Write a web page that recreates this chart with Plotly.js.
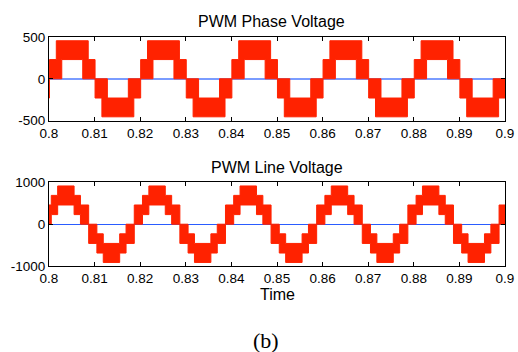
<!DOCTYPE html>
<html>
<head>
<meta charset="utf-8">
<script src="https://cdn.plot.ly/plotly-3.0.1.min.js"></script>
<style>html,body{margin:0;padding:0;background:#fff;}#chart{width:518px;height:352px;}</style>
</head>
<body>
<div id="chart"></div>
<script>
// ---- data ----
// PWM phase voltage: switching band, segment edges (s) and band limits (V)
const phaseEdges = [
  0.8000, 0.8001, 0.8016, 0.8028, 0.8074, 0.8086, 0.8101, 0.8116, 0.8128, 0.8174, 0.8186,
  0.8201, 0.8216, 0.8228, 0.8274, 0.8286, 0.8301, 0.8316, 0.8328, 0.8374, 0.8386,
  0.8401, 0.8416, 0.8428, 0.8474, 0.8486, 0.8501, 0.8516, 0.8528, 0.8574, 0.8586,
  0.8601, 0.8616, 0.8628, 0.8674, 0.8686, 0.8701, 0.8716, 0.8728, 0.8774, 0.8786,
  0.8801, 0.8816, 0.8828, 0.8874, 0.8886, 0.8901, 0.8916, 0.8928, 0.8974, 0.8986,
  0.9000
];
const phaseLow = [
  -230,
  0, 0, 230, 0, 0, -230, -455, -455, -455, -230,
  0, 0, 230, 0, 0, -230, -455, -455, -455, -230,
  0, 0, 230, 0, 0, -230, -455, -455, -455, -230,
  0, 0, 230, 0, 0, -230, -455, -455, -455, -230,
  0, 0, 230, 0, 0, -230, -455, -455, -455, -230
];
const phaseHigh = [
  0,
  230, 455, 455, 455, 230, 0, 0, -230, 0, 0,
  230, 455, 455, 455, 230, 0, 0, -230, 0, 0,
  230, 455, 455, 455, 230, 0, 0, -230, 0, 0,
  230, 455, 455, 455, 230, 0, 0, -230, 0, 0,
  230, 455, 455, 455, 230, 0, 0, -230, 0, 0
];

// PWM line voltage
const lineEdges = [
  0.8000, 0.8005, 0.8019, 0.8055, 0.8069, 0.8087, 0.8105, 0.8119, 0.8155, 0.8169, 0.8187,
  0.8205, 0.8219, 0.8255, 0.8269, 0.8287, 0.8305, 0.8319, 0.8355, 0.8369, 0.8387,
  0.8405, 0.8419, 0.8455, 0.8469, 0.8487, 0.8505, 0.8519, 0.8555, 0.8569, 0.8587,
  0.8605, 0.8619, 0.8655, 0.8669, 0.8687, 0.8705, 0.8719, 0.8755, 0.8769, 0.8787,
  0.8805, 0.8819, 0.8855, 0.8869, 0.8887, 0.8905, 0.8919, 0.8955, 0.8969, 0.8987,
  0.9000
];
const lineLow = [
  0,
  230, 460, 230, 0, -460, -690, -915, -690, -460, 0,
  230, 460, 230, 0, -460, -690, -915, -690, -460, 0,
  230, 460, 230, 0, -460, -690, -915, -690, -460, 0,
  230, 460, 230, 0, -460, -690, -915, -690, -460, 0,
  230, 460, 230, 0, -460, -690, -915, -690, -460, 0
];
const lineHigh = [
  460,
  690, 915, 690, 460, 0, -230, -460, -230, 0, 460,
  690, 915, 690, 460, 0, -230, -460, -230, 0, 460,
  690, 915, 690, 460, 0, -230, -460, -230, 0, 460,
  690, 915, 690, 460, 0, -230, -460, -230, 0, 460,
  690, 915, 690, 460, 0, -230, -460, -230, 0, 460
];

const xTickVals = [0.8, 0.81, 0.82, 0.83, 0.84, 0.85, 0.86, 0.87, 0.88, 0.89, 0.9];
const xTickText = ['0.8','0.81','0.82','0.83','0.84','0.85','0.86','0.87','0.88','0.89','0.9'];
const phaseTickVals = [-500, 0, 500];
const phaseTickText = ['-500', '0', '500'];
const lineTickVals = [-1000, 0, 1000];
const lineTickText = ['-1000', '0', '1000'];

// ---- build band polygon from step data ----
function band(edges, lo, hi) {
  const x = [], y = [];
  for (let i = 0; i < lo.length; i++) { x.push(edges[i], edges[i + 1]); y.push(hi[i], hi[i]); }
  for (let i = lo.length - 1; i >= 0; i--) { x.push(edges[i + 1], edges[i]); y.push(lo[i], lo[i]); }
  x.push(x[0]); y.push(y[0]);
  return {x, y};
}
const RED = '#ff2200';
const p = band(phaseEdges, phaseLow, phaseHigh);
const l = band(lineEdges, lineLow, lineHigh);

const traces = [
  {x: p.x, y: p.y, type: 'scatter', mode: 'lines', fill: 'toself', fillcolor: RED,
   line: {color: RED, width: 1}, xaxis: 'x', yaxis: 'y', hoverinfo: 'skip'},
  {x: l.x, y: l.y, type: 'scatter', mode: 'lines', fill: 'toself', fillcolor: RED,
   line: {color: RED, width: 1}, xaxis: 'x2', yaxis: 'y2', hoverinfo: 'skip'}
];

const font = {family: 'Liberation Sans, Arial, Helvetica, sans-serif', color: '#000', size: 13.5};
function xax(anchor) {
  return {anchor: anchor, range: [0.8, 0.9], tickvals: xTickVals, ticktext: xTickText,
    ticks: 'inside', ticklen: 4, tickcolor: '#000', mirror: 'allticks', showline: true,
    linecolor: '#000', linewidth: 1, showgrid: false, zeroline: false, tickfont: font,
    fixedrange: true};
}
function yax(anchor, dom, rng, tv, tt, zc, zw) {
  return {anchor: anchor, domain: dom, range: rng, tickvals: tv, ticktext: tt,
    ticks: 'inside', ticklen: 4, tickcolor: '#000', mirror: 'allticks', showline: true,
    linecolor: '#000', linewidth: 1, showgrid: false, zeroline: true, zerolinecolor: zc,
    zerolinewidth: zw, tickfont: font, fixedrange: true};
}

const layout = {
  width: 518, height: 352,
  margin: {l: 49, r: 13, t: 37, b: 86, pad: 0},
  paper_bgcolor: '#fff', plot_bgcolor: '#fff',
  showlegend: false,
  xaxis: xax('y'),
  yaxis: yax('x', [0.635, 1], [-500, 500], phaseTickVals, phaseTickText, '#7a9cff', 2),
  xaxis2: xax('y2'),
  yaxis2: yax('x2', [0, 0.365], [-1000, 1000], lineTickVals, lineTickText, '#2a5cff', 1.2),
  annotations: [
    {text: 'PWM Phase Voltage', xref: 'paper', yref: 'paper', x: 0.489, y: 1, yshift: 16,
     xanchor: 'center', yanchor: 'middle', showarrow: false,
     font: {family: font.family, size: 16, color: '#000'}},
    {text: 'PWM Line Voltage', xref: 'paper', yref: 'paper', x: 0.499, y: 0.365, yshift: 15,
     xanchor: 'center', yanchor: 'middle', showarrow: false,
     font: {family: font.family, size: 16, color: '#000'}},
    {text: 'Time', xref: 'paper', yref: 'paper', x: 0.501, y: 0, yshift: -28,
     xanchor: 'center', yanchor: 'middle', showarrow: false,
     font: {family: font.family, size: 16, color: '#000'}},
    {text: '(b)', xref: 'paper', yref: 'paper', x: 0.475, y: 0, yshift: -74,
     xanchor: 'center', yanchor: 'middle', showarrow: false,
     font: {family: 'Liberation Serif, Times New Roman, serif', size: 22, color: '#000'}}
  ]
};

Plotly.newPlot('chart', traces, layout, {staticPlot: true, displayModeBar: false});
</script>
</body>
</html>
